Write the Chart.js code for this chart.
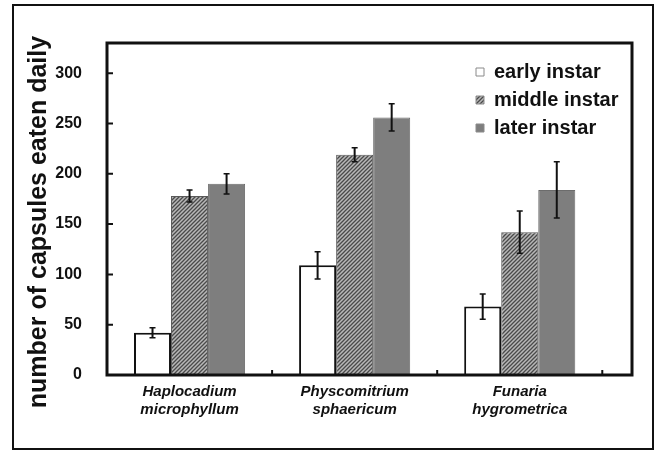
<!DOCTYPE html>
<html>
<head>
<meta charset="utf-8">
<script src="https://cdn.jsdelivr.net/npm/chart.js@4.4.1/dist/chart.umd.min.js"></script>
<style>
  html, body { margin: 0; padding: 0; background: #fff; }
  #wrap { position: relative; width: 655px; height: 451px; }
  #frame { position: absolute; left: 12px; top: 4px; width: 642px; height: 446px;
           border: 2px solid #111; box-sizing: border-box; pointer-events: none; }
</style>
</head>
<body>
<div id="wrap">
  <canvas id="capsChart" width="655" height="451"></canvas>
  <div id="frame"></div>
</div>
<script>
// data
const species = ['Haplocadium microphyllum', 'Physcomitrium sphaericum', 'Funaria hygrometrica'];
const stages = ['early instar', 'middle instar', 'later instar'];
const early = [42, 109, 68];
const earlyErr = [5, 13.5, 12.5];
const middle = [178, 219, 142];
const middleErr = [6, 7, 21];
const later = [190, 256, 184];
const laterErr = [10, 13.5, 28];
const yTicks = [0, 50, 100, 150, 200, 250, 300];
const yTitle = 'number of capsules eaten daily';

const FONT = "'Liberation Sans', Arial, sans-serif";

function hatch() {
  const c = document.createElement('canvas');
  c.width = 4; c.height = 4;
  const g = c.getContext('2d');
  g.fillStyle = '#b8b8b8';
  g.fillRect(0, 0, 4, 4);
  g.strokeStyle = '#4a4a4a';
  g.lineWidth = 1.3;
  g.beginPath();
  g.moveTo(-1, 5); g.lineTo(5, -1);
  g.moveTo(-1, 1); g.lineTo(1, -1);
  g.moveTo(3, 5); g.lineTo(5, 3);
  g.stroke();
  return g.createPattern(c, 'repeat');
}

// bars sit at the middle of each unit on a linear x axis
const points = vals => vals.map((v, i) => ({ x: i + 0.5, y: v }));

const extras = {
  id: 'extras',
  afterLayout(chart) {
    const lg = chart.legend, a = chart.chartArea;
    lg.left = a.right - 164;
    lg.top = a.top + 11;
    lg.right = a.right;
    lg.bottom = a.bottom;
  },
  afterDatasetsDraw(chart) {
    const ctx = chart.ctx, ys = chart.scales.y, xs = chart.scales.x, a = chart.chartArea;
    // error bars
    chart.data.datasets.forEach((ds, di) => {
      chart.getDatasetMeta(di).data.forEach((bar, i) => {
        const v = ds.data[i].y, e = ds.errors[i];
        const top = ys.getPixelForValue(v + e), bot = ys.getPixelForValue(v - e);
        ctx.save();
        ctx.strokeStyle = '#111';
        ctx.lineWidth = 2;
        ctx.beginPath();
        ctx.moveTo(bar.x, top); ctx.lineTo(bar.x, bot);
        ctx.stroke();
        ctx.lineWidth = 1.5;
        ctx.beginPath();
        ctx.moveTo(bar.x - 3, top); ctx.lineTo(bar.x + 3, top);
        ctx.moveTo(bar.x - 3, bot); ctx.lineTo(bar.x + 3, bot);
        ctx.stroke();
        ctx.restore();
      });
    });
    // plot frame and inward ticks
    ctx.save();
    ctx.strokeStyle = '#111';
    ctx.lineWidth = 3;
    ctx.strokeRect(a.left, a.top, a.right - a.left, a.bottom - a.top);
    ctx.lineWidth = 2;
    ctx.beginPath();
    yTicks.slice(1).forEach(t => {
      const py = ys.getPixelForValue(t);
      ctx.moveTo(a.left, py); ctx.lineTo(a.left + 6, py);
    });
    for (let i = 1; i <= species.length; i++) {
      const px = xs.getPixelForValue(i);
      ctx.moveTo(px, a.bottom); ctx.lineTo(px, a.bottom - 5);
    }
    ctx.stroke();
    ctx.restore();
  },
  afterDraw(chart) {
    // y axis title, sits a little below the middle of the plot in the original
    const ctx = chart.ctx, a = chart.chartArea;
    ctx.save();
    ctx.translate(39, (a.top + a.bottom) / 2 + 13);
    ctx.rotate(-Math.PI / 2);
    ctx.font = 'bold 25px ' + FONT;
    ctx.fillStyle = '#111';
    ctx.textAlign = 'center';
    ctx.textBaseline = 'middle';
    ctx.fillText(yTitle, 0, 0);
    ctx.restore();
  }
};

const ctx = document.getElementById('capsChart').getContext('2d');
const chart = new Chart(ctx, {
  type: 'bar',
  data: {
    datasets: [
      { label: stages[0], data: points(early), errors: earlyErr,
        backgroundColor: '#ffffff', borderColor: '#111', borderWidth: 2, borderSkipped: 'bottom' },
      { label: stages[1], data: points(middle), errors: middleErr,
        backgroundColor: hatch(), borderColor: '#5a5a5a', borderWidth: 1, borderSkipped: 'bottom' },
      { label: stages[2], data: points(later), errors: laterErr,
        backgroundColor: '#7e7e7e', borderColor: '#6c6c6c', borderWidth: 1, borderSkipped: 'bottom' }
    ]
  },
  options: {
    responsive: false,
    animation: false,
    categoryPercentage: 0.673,
    barPercentage: 1,
    layout: { padding: { left: 0, top: 43, right: 23, bottom: 0 } },
    plugins: {
      tooltip: { enabled: false },
      legend: {
        position: 'chartArea',
        align: 'start',
        labels: {
          color: '#111',
          font: { family: FONT, size: 20, weight: 'bold' },
          boxWidth: 8,
          boxHeight: 8,
          padding: 8,
          generateLabels(c) {
            const items = Chart.defaults.plugins.legend.labels.generateLabels(c);
            items.forEach(it => { it.lineWidth = 1; it.strokeStyle = '#8a8a8a'; });
            return items;
          }
        }
      }
    },
    scales: {
      x: {
        type: 'linear',
        min: 0,
        max: 3.18,
        offset: false,
        grid: { display: false, offset: false },
        border: { display: false },
        afterBuildTicks(scale) {
          scale.ticks = species.map((s, i) => ({ value: i + 0.5 }));
        },
        afterFit(scale) { scale.height = 76; },
        ticks: {
          autoSkip: false,
          maxRotation: 0,
          padding: 0,
          color: '#111',
          font: { family: FONT, size: 15, weight: 'bold', style: 'italic', lineHeight: 1.2 },
          callback: (v, i) => species[i].split(' ')
        }
      },
      y: {
        min: 0,
        max: 330,
        grid: { display: false, drawTicks: false },
        border: { display: false },
        afterFit(scale) { scale.width = 107; },
        afterBuildTicks(scale) {
          scale.ticks = yTicks.map(v => ({ value: v }));
        },
        ticks: {
          padding: 25,
          color: '#111',
          font: { family: FONT, size: 16, weight: 'bold' }
        }
      }
    }
  },
  plugins: [extras]
});
</script>
</body>
</html>
